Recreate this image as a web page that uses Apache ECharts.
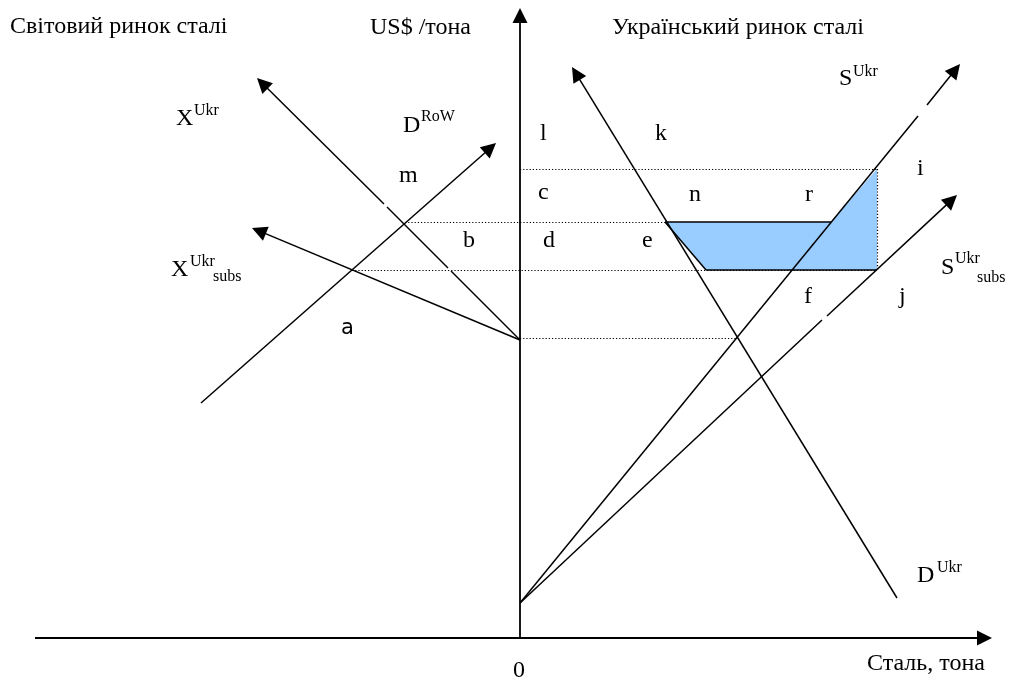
<!DOCTYPE html>
<html><head><meta charset="utf-8">
<script src="https://cdn.jsdelivr.net/npm/echarts@6/dist/echarts.min.js"></script>
<style>html,body{margin:0;padding:0;background:#fff}#c{width:1012px;height:681px}</style>
</head><body><div id="c"></div>
<script>
// Diagram data in drawing units (x to the right, y downward); null = small break in a curve
const axisX = [[35,638],[992,638]];
const axisY = [[520,638],[520,8]];
const sUkr  = [[520,603],[918,116],null,[927,105],[960,64]];
const sSubs = [[520,603],[822,320],null,[827,316],[957,195]];
const dUkr  = [[897,598],[572,67]];
const xUkr  = [[520,340],[451,271],null,[448,268],[387,207],null,[384,204],[257,78]];
const dRoW  = [[201,403],[496,143]];
const xSubs = [[520,340],[252,228]];
const priceLines = [
  [[520,169],[877,169]],
  [[405,222],[665,222]],
  [[352,270],[877,270]],
  [[520,338],[738,338]],
  [[877,169],[877,270]]
];
const lossArea = [[665,222],[831,222],[877,169],[877,270],[706,270]];
const lossEdges = [
  [[665,222],[831,222]],
  [[665,222],[706,270]],
  [[706,270],[877,270]]
];
// Text labels: [text, x, baseline, size, family]
const SERIF = 'Liberation Serif, Times New Roman, serif';
const SANS = 'DejaVu Sans, sans-serif';
const labels = [
  ['Світовий ринок сталі', 10, 35, 24],
  ['US$ /тона', 370, 36, 24],
  ['Український ринок сталі', 612, 36, 24],
  ['X', 176, 127, 24], ['Ukr', 194, 116, 16],
  ['D', 403, 134, 24], ['RoW', 421, 122, 16],
  ['l', 540, 142, 24], ['k', 655, 142, 24],
  ['m', 399, 184, 24], ['c', 538, 201, 24], ['n', 689, 203, 24], ['r', 805, 203, 24], ['i', 917, 177, 24],
  ['b', 463, 249, 24], ['d', 543, 249, 24], ['e', 642, 249, 24],
  ['f', 804, 305, 24], ['j', 899, 305, 24],
  ['a', 341, 336, 21, SANS],
  ['X', 171, 278, 24], ['Ukr', 190, 267, 16], ['subs', 213, 282, 16],
  ['S', 839, 87, 24], ['Ukr', 853, 77, 16],
  ['S', 941, 276, 24], ['Ukr', 955, 264, 16], ['subs', 977, 283, 16],
  ['D', 917, 584, 24], ['Ukr', 937, 573, 16],
  ['0', 513, 679, 24],
  ['Сталь, тона', 867, 672, 24]
];

function splitSegments(curve){
  const segs = []; let cur = [];
  curve.forEach(p => { if (p === null) { if (cur.length>1) segs.push(cur); cur = []; } else cur.push(p); });
  if (cur.length>1) segs.push(cur);
  return segs;
}
const ARROW = 15;
function shorten(seg){ // move last point back so the triangle tip lands on it
  const a = seg[seg.length-2], b = seg[seg.length-1];
  const dx = b[0]-a[0], dy = b[1]-a[1], L = Math.hypot(dx,dy);
  return [a, [b[0]-dx/L*ARROW/2, b[1]-dy/L*ARROW/2]];
}
const arrowCurves = [axisX, axisY, sUkr, sSubs, dUkr, xUkr, dRoW, xSubs];
const plainSegs = [], arrowSegs = [];
arrowCurves.forEach((c, ci) => {
  const segs = splitSegments(c);
  segs.forEach((s, i) => {
    if (i === segs.length-1) arrowSegs.push({coords: shorten(s), lineStyle:{width: ci<2?1.8:1.5}});
    else plainSegs.push({coords: s, lineStyle:{width: 1.5}});
  });
});

const chart = echarts.init(document.getElementById('c'), null, {renderer:'canvas'});
const graphic = labels.map(l => {
  const size = l[3], fam = l[4] || SERIF;
  return {
    type:'text', silent:true, z:100,
    style:{ text:l[0], x:l[1], y:l[2]-0.34*size, font: size+'px '+fam, fill:'#000',
            align:'left', verticalAlign:'middle' }
  };
});
chart.setOption({
  animation:false,
  backgroundColor:'#fff',
  grid:{left:0,right:0,top:0,bottom:0},
  xAxis:{type:'value',min:0,max:1012,show:false},
  yAxis:{type:'value',min:0,max:681,inverse:true,show:false},
  graphic: graphic,
  series:[
    { type:'custom', coordinateSystem:'cartesian2d', silent:true, z:1,
      data:[[0,0]],
      renderItem:(p, api) => ({ type:'polygon',
        shape:{ points: lossArea.map(pt => api.coord(pt)) },
        style:{ fill:'#99CCFF', stroke:null } }) },
    { type:'lines', coordinateSystem:'cartesian2d', silent:true, z:2,
      data: priceLines.map(s => ({coords:s})),
      lineStyle:{color:'#000', width:1.2, type:[1.2,2], opacity:1} },
    { type:'lines', coordinateSystem:'cartesian2d', silent:true, z:3,
      data: lossEdges.map(s => ({coords:s})),
      lineStyle:{color:'#000', width:1.5, opacity:1} },
    { type:'lines', coordinateSystem:'cartesian2d', silent:true, z:4,
      data: plainSegs, lineStyle:{color:'#000', width:1.5, opacity:1} },
    { type:'lines', coordinateSystem:'cartesian2d', silent:true, z:5,
      data: arrowSegs, symbol:['none','triangle'], symbolSize:ARROW,
      itemStyle:{color:'#000'},
      lineStyle:{color:'#000', width:1.5, opacity:1} }
  ]
});
</script></body></html>
